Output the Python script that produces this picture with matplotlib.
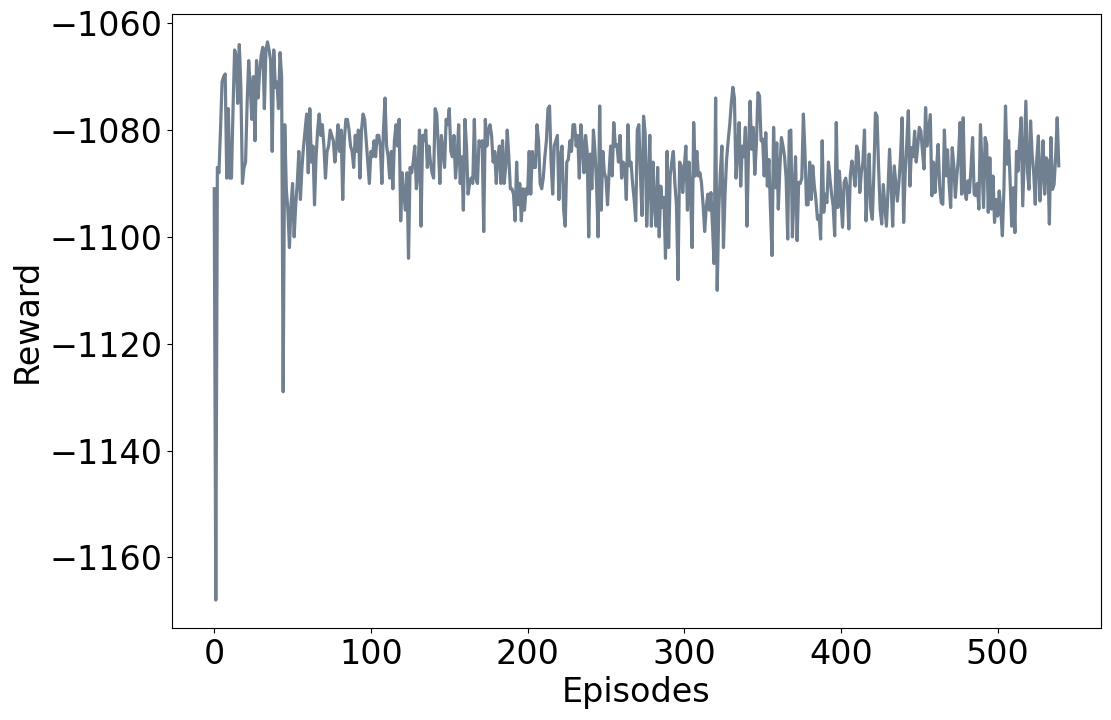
import numpy as np
import matplotlib
matplotlib.use("Agg")
import matplotlib.pyplot as plt

# Rewards per episode (in segments)
rewards_000_050 = [-1091, -1168, -1087, -1088, -1080, -1071, -1070, -1069.5, -1089, -1076,
                   -1089, -1089, -1076, -1065, -1066, -1075, -1064, -1072, -1090, -1087,
                   -1086, -1075, -1067, -1072, -1078, -1070, -1082, -1067, -1074, -1069,
                   -1066, -1064.5, -1076, -1065, -1063.5, -1065, -1067, -1084, -1065, -1072,
                   -1071, -1076, -1065.5, -1070, -1129, -1079, -1091, -1095, -1102, -1094,
                   -1090]
rewards_051_092 = [-1100, -1094, -1090, -1084, -1093, -1087, -1083, -1080, -1077, -1088,
                   -1076, -1086, -1083, -1094, -1085, -1080, -1077, -1081, -1079, -1083,
                   -1089, -1084, -1083, -1080, -1081, -1082, -1086, -1083, -1079, -1084,
                   -1080, -1093, -1082, -1078, -1078, -1080, -1083, -1084, -1087, -1081,
                   -1084, -1080]
rewards_093_137 = [-1089, -1080, -1077, -1078, -1082, -1086, -1090, -1084, -1085, -1082,
                   -1085, -1081, -1081, -1083, -1090, -1080, -1074, -1083, -1085, -1089,
                   -1084, -1091, -1082, -1079, -1083, -1078, -1097, -1088, -1092, -1095,
                   -1088, -1104, -1087, -1088, -1086, -1083, -1091, -1088, -1080, -1098,
                   -1081, -1082, -1080, -1087, -1083]
rewards_138_183 = [-1086, -1088, -1089, -1076, -1077, -1083, -1090, -1081, -1084, -1087,
                   -1078, -1079, -1076, -1084, -1085, -1081, -1089, -1085, -1079, -1090,
                   -1085, -1095, -1078, -1083, -1092, -1090, -1089, -1090, -1078, -1089,
                   -1090, -1082, -1083, -1082, -1099, -1078, -1083, -1080, -1079, -1081,
                   -1086, -1084, -1090, -1085, -1083, -1090]
rewards_184_229 = [-1082, -1090, -1087, -1080, -1085, -1091, -1091, -1092, -1097, -1086,
                   -1094, -1090, -1097, -1091, -1095, -1091, -1092, -1084, -1092, -1084,
                   -1087, -1087, -1079, -1082, -1090, -1091, -1089, -1085, -1082, -1076,
                   -1075.5, -1086, -1092, -1083, -1082, -1081, -1093, -1085, -1083, -1095,
                   -1098, -1086, -1085.5, -1082, -1084, -1079]
rewards_230_275 = [-1079, -1083, -1081, -1089, -1079, -1083, -1088, -1081, -1084, -1100,
                   -1084.5, -1091, -1080, -1084, -1090, -1100, -1075.5, -1095, -1084, -1088,
                   -1089, -1094, -1088, -1083, -1088.6, -1078.6, -1083, -1082.7, -1086, -1081,
                   -1089, -1086, -1086.5, -1093, -1079, -1086.7, -1086, -1090, -1093, -1097,
                   -1080, -1079, -1088, -1096, -1077.4, -1080.5]
rewards_276_321 = [-1098, -1090, -1081, -1098, -1086, -1094, -1098, -1087, -1100, -1090.5,
                   -1094.5, -1092.6, -1104, -1084, -1102, -1088.6, -1086, -1084, -1090, -1094,
                   -1108, -1086, -1086.7, -1091.7, -1087, -1083, -1095, -1086, -1092, -1102,
                   -1078.6, -1088.6, -1084, -1088.6, -1088, -1090, -1094, -1099, -1094.5, -1092,
                   -1095, -1091.7, -1098, -1105, -1074, -1110]
rewards_322_367 = [-1095, -1088, -1083, -1102, -1092, -1085.5, -1082, -1079, -1075, -1072,
                   -1074, -1089, -1084, -1078.6, -1090.5, -1083, -1085, -1079.5, -1098, -1084,
                   -1074.6, -1083.6, -1079.5, -1088.3, -1082.7, -1073, -1073.6, -1082, -1081.7, -1088.6,
                   -1080.5, -1090.5, -1085.5, -1095, -1103.5, -1079.5, -1090.8, -1082.4, -1094.8, -1087,
                   -1081.4, -1083, -1085, -1089, -1100.4, -1080.2]
rewards_368_413 = [-1080, -1100, -1092, -1085, -1100.7, -1089.8, -1090, -1089, -1077, -1084,
                   -1094, -1094, -1086, -1093, -1086.7, -1090.5, -1093, -1096.7, -1096, -1100.4,
                   -1082, -1095.4, -1092, -1093.6, -1086, -1089.2, -1092, -1094.2, -1099.8, -1078.6,
                   -1094.5, -1087.7, -1093, -1098.2, -1089.8, -1089, -1091, -1098.5, -1088.3, -1085.8,
                   -1088, -1090.5, -1083, -1084.2, -1091.7, -1088]
rewards_414_459 = [-1086, -1080, -1097, -1090, -1084.5, -1094.8, -1096.7, -1088, -1076.8, -1077.4,
                   -1087, -1094.8, -1097.6, -1090.2, -1094, -1098, -1091.4, -1083.6, -1090, -1098,
                   -1086.7, -1090, -1093.3, -1089.8, -1085, -1077.7, -1097.3, -1088, -1082.4, -1076.4,
                   -1090.5, -1083.3, -1085, -1080.2, -1086, -1083, -1079.5, -1080.2, -1084, -1087.3,
                   -1075.8, -1083, -1080, -1077.1, -1092.3, -1086]
rewards_460_539 = [-1091.7, -1087, -1082.7, -1090.5, -1093.6, -1093.9, -1080, -1088.6, -1083.7, -1090,
                   -1094.5, -1083.3, -1086.7, -1092.6, -1088.3, -1085, -1078.6, -1092, -1077.7, -1091.4,
                   -1093, -1089.5, -1091.7, -1087, -1081.4, -1092, -1092.3, -1090, -1094.8, -1079,
                   -1087, -1094.5, -1081.4, -1082.7, -1095.4, -1085.2, -1094.8, -1088.6, -1097.3, -1093,
                   -1096.1, -1091.4, -1095, -1099.8, -1091.1, -1075.5, -1086.4, -1082, -1090, -1098,
                   -1090.8, -1099.2, -1084, -1087.7, -1082, -1077.7, -1094.2, -1084.5, -1074.6, -1087.7,
                   -1091.1, -1078.3, -1084.5, -1088, -1093.9, -1085.2, -1081.1, -1093.3, -1088, -1082,
                   -1092, -1085.2, -1085.8, -1097.6, -1081.4, -1091.1, -1090.2, -1085, -1077.7, -1086.7]

rewards = (rewards_000_050 + rewards_051_092 + rewards_093_137 + rewards_138_183
           + rewards_184_229 + rewards_230_275 + rewards_276_321 + rewards_322_367
           + rewards_368_413 + rewards_414_459 + rewards_460_539)
episodes = np.arange(len(rewards))

x_label = "Episodes"
y_label = "Reward"

fig = plt.figure(figsize=(11.11, 7.2), dpi=100)
ax = fig.add_axes([172/1111, 1 - 628/720, (1101-172)/1111, (628-14)/720])
ax.plot(episodes, rewards, color="slategray", linewidth=2.3)
ax.set_xlabel(x_label, fontsize=24)
ax.set_ylabel(y_label, fontsize=24)
ax.tick_params(axis="both", labelsize=24)
ax.set_xticks([0, 100, 200, 300, 400, 500])
ax.set_yticks([-1160, -1140, -1120, -1100, -1080, -1060])
fig.savefig("out.png", dpi=100)
